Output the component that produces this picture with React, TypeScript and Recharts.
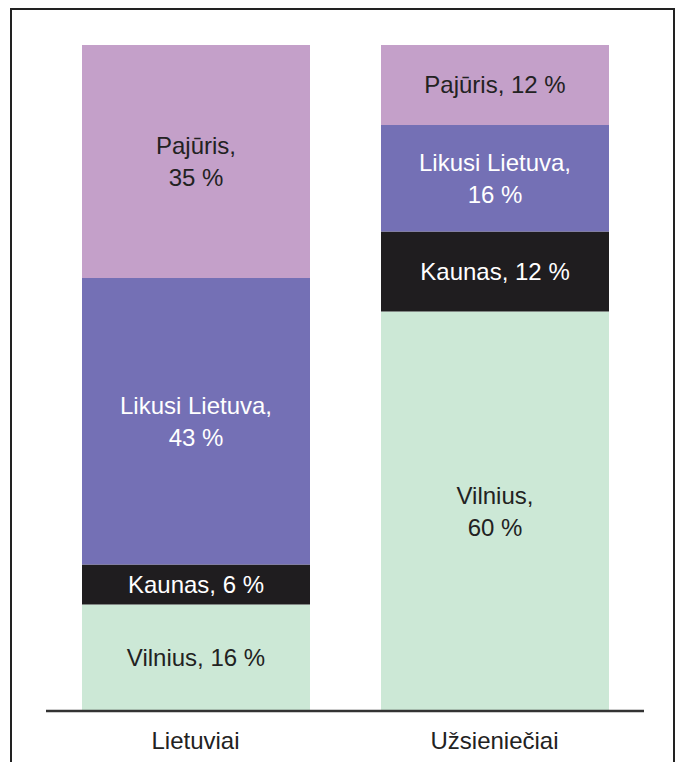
import React from 'react';
import { BarChart, Bar, XAxis, YAxis, LabelList } from 'recharts';

// Categories and shares (%)
const categories = ['Lietuviai', 'Užsieniečiai'];
const vilnius = [16, 60];
const kaunas = [6, 12];
const likusi = [43, 16];
const pajuris = [35, 12];

// Which labels break onto two lines, per category
const wrapVilnius = [false, true];
const wrapKaunas = [false, false];
const wrapLikusi = [true, true];
const wrapPajuris = [true, false];

const COLORS = {
  vilnius: '#cce8d6',
  kaunas: '#1f1d1f',
  likusi: '#7470b5',
  pajuris: '#c4a0c9',
};

const FONT = '"Liberation Sans", Arial, sans-serif';

const data = categories.map((name, i) => ({
  name,
  vilnius: vilnius[i],
  kaunas: kaunas[i],
  likusi: likusi[i],
  pajuris: pajuris[i],
}));

function makeLabel(title: string, wrap: boolean[], color: string) {
  return (props: any) => {
    const { x, y, width, height, value, index } = props;
    const cx = Number(x) + Number(width) / 2;
    const cy = Number(y) + Number(height) / 2;
    const common = {
      x: cx,
      textAnchor: 'middle' as const,
      dominantBaseline: 'central' as const,
      fill: color,
      fontSize: 24,
      fontFamily: FONT,
    };
    if (wrap[index]) {
      return (
        <g>
          <text {...common} y={cy - 16}>{`${title},`}</text>
          <text {...common} y={cy + 16}>{`${value} %`}</text>
        </g>
      );
    }
    return (
      <text {...common} y={cy}>{`${title}, ${value} %`}</text>
    );
  };
}

export default function App() {
  return (
    <div style={{ position: 'absolute', left: 0, top: 0, width: 681, height: 762, overflow: 'hidden', background: '#fff' }}>
      <div
        style={{
          position: 'absolute',
          left: 10,
          top: 8,
          width: 661,
          height: 760,
          borderTop: '2px solid #222',
          borderLeft: '2px solid #222',
          borderRight: '2px solid #222',
        }}
      />
      <div style={{ position: 'absolute', left: 0, top: 0 }}>
        <BarChart
          width={681}
          height={762}
          data={data}
          margin={{ top: 45, right: 37, bottom: 21, left: 46 }}
          barCategoryGap={0}
        >
          <XAxis
            dataKey="name"
            height={30}
            axisLine={{ stroke: '#333', strokeWidth: 2.5 }}
            tickLine={false}
            tickMargin={15}
            tick={{ fontSize: 24, fill: '#222', fontFamily: FONT }}
          />
          <YAxis hide domain={[0, 100]} />
          <Bar dataKey="vilnius" stackId="a" fill={COLORS.vilnius} barSize={228} isAnimationActive={false}>
            <LabelList dataKey="vilnius" content={makeLabel('Vilnius', wrapVilnius, '#222')} />
          </Bar>
          <Bar dataKey="kaunas" stackId="a" fill={COLORS.kaunas} barSize={228} isAnimationActive={false}>
            <LabelList dataKey="kaunas" content={makeLabel('Kaunas', wrapKaunas, '#fff')} />
          </Bar>
          <Bar dataKey="likusi" stackId="a" fill={COLORS.likusi} barSize={228} isAnimationActive={false}>
            <LabelList dataKey="likusi" content={makeLabel('Likusi Lietuva', wrapLikusi, '#fff')} />
          </Bar>
          <Bar dataKey="pajuris" stackId="a" fill={COLORS.pajuris} barSize={228} isAnimationActive={false}>
            <LabelList dataKey="pajuris" content={makeLabel('Pajūris', wrapPajuris, '#222')} />
          </Bar>
        </BarChart>
      </div>
    </div>
  );
}
